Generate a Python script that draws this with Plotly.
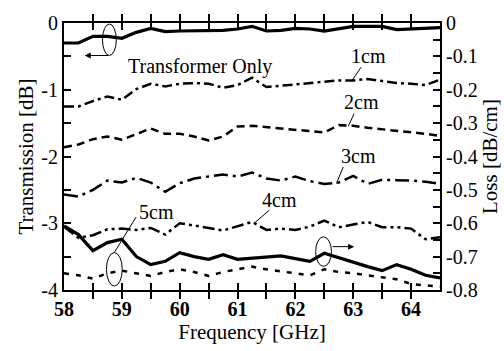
import plotly.graph_objects as go

freq = [58.0, 58.25, 58.5, 58.75, 59.0, 59.25, 59.5, 59.75, 60.0, 60.25, 60.5, 60.75, 61.0,
        61.25, 61.5, 61.75, 62.0, 62.25, 62.5, 62.75, 63.0, 63.25, 63.5, 63.75, 64.0, 64.25, 64.5]

transformer_only = [-0.30, -0.30, -0.20, -0.20, -0.23, -0.14, -0.08, -0.13, -0.12, -0.12, -0.12, -0.11, -0.09,
                    -0.05, -0.12, -0.11, -0.08, -0.09, -0.12, -0.09, -0.05, -0.05, -0.05, -0.10, -0.09, -0.08, -0.07]
t_1cm = [-1.25, -1.25, -1.17, -1.10, -1.15, -0.99, -0.91, -0.95, -0.91, -0.90, -0.91, -0.97, -0.93,
         -0.82, -0.96, -0.94, -0.91, -0.90, -0.88, -0.86, -0.86, -0.84, -0.87, -0.90, -0.91, -0.93, -0.85]
t_2cm = [-1.86, -1.82, -1.74, -1.70, -1.75, -1.66, -1.58, -1.66, -1.66, -1.70, -1.76, -1.70, -1.55,
         -1.54, -1.56, -1.58, -1.59, -1.61, -1.64, -1.53, -1.54, -1.57, -1.59, -1.61, -1.63, -1.66, -1.69]
t_3cm = [-2.57, -2.60, -2.50, -2.36, -2.39, -2.32, -2.39, -2.53, -2.40, -2.33, -2.30, -2.27, -2.30,
         -2.24, -2.33, -2.36, -2.30, -2.37, -2.41, -2.39, -2.29, -2.41, -2.35, -2.35, -2.36, -2.38, -2.41]
t_4cm = [-3.05, -3.22, -3.18, -3.09, -3.08, -3.10, -3.07, -3.17, -3.00, -3.03, -3.07, -3.11, -3.05,
         -2.98, -3.10, -3.08, -3.10, -3.05, -2.96, -3.06, -3.02, -2.98, -3.06, -3.06, -3.08, -3.24, -3.21]
t_5cm = [-3.75, -3.78, -3.83, -3.75, -3.71, -3.75, -3.79, -3.73, -3.69, -3.73, -3.79, -3.73, -3.69,
         -3.65, -3.69, -3.72, -3.75, -3.78, -3.69, -3.73, -3.75, -3.78, -3.80, -3.84, -3.91, -3.93, -3.95]
loss_per_cm = [-0.608, -0.634, -0.682, -0.658, -0.648, -0.700, -0.724, -0.714, -0.688, -0.700, -0.708, -0.694, -0.708,
               -0.704, -0.702, -0.698, -0.706, -0.714, -0.690, -0.704, -0.718, -0.730, -0.742, -0.724, -0.738, -0.756, -0.764]

x_tick_pos = [58, 58.5, 59, 59.5, 60, 60.5, 61, 61.5, 62, 62.5, 63, 63.5, 64]
x_tick_text = ["<b>58</b>", "", "<b>59</b>", "", "<b>60</b>", "", "<b>61</b>", "", "<b>62</b>", "",
               "<b>63</b>", "", "<b>64</b>"]
y_left_pos = [0, -0.5, -1, -1.5, -2, -2.5, -3, -3.5, -4]
y_left_text = ["0", "", "-1", "", "-2", "", "-3", "", "-4"]
y_right_pos = [0, -0.05, -0.1, -0.15, -0.2, -0.25, -0.3, -0.35, -0.4, -0.45, -0.5, -0.55, -0.6, -0.65,
               -0.7, -0.75, -0.8]
y_right_text = ["0", "", "-0.1", "", "-0.2", "", "-0.3", "", "-0.4", "", "-0.5", "", "-0.6", "",
                "-0.7", "", "-0.8"]

FONT = "Liberation Serif"
W, H = 504, 351
ML, MR, MT, MB = 64, 59, 20, 60
X0, X1 = 58, 64.5
Y0, Y1 = -4, 0
pw, ph = W - ML - MR, H - MT - MB


def dx(px):
    return X0 + (px - ML) / pw * (X1 - X0)


def dy(py):
    return Y1 - (py - MT) / ph * (Y1 - Y0)


fig = go.Figure()
style = [
    (transformer_only, "solid", 3.2, "y"),
    (t_1cm, "10px,4px,3px,4px", 2.5, "y"),
    (t_2cm, "8px,5px", 2.5, "y"),
    (t_3cm, "14px,5px,3px,5px", 2.5, "y"),
    (t_4cm, "12px,4px,3px,4px,3px,4px", 2.5, "y"),
    (t_5cm, "5px,7px", 2.5, "y"),
    (loss_per_cm, "solid", 3.2, "y2"),
]
for vals, dash, w, ax in style:
    fig.add_trace(go.Scatter(x=freq, y=vals, mode="lines", yaxis=ax,
                             line=dict(color="black", width=w, dash=dash), showlegend=False))

labels = [("Transformer Only", 202, 64), ("1cm", 373, 53), ("2cm", 365, 100),
          ("3cm", 362, 155), ("4cm", 282, 200), ("5cm", 158, 212)]
for txt, px, py in labels:
    fig.add_annotation(x=dx(px), y=dy(py), xref="x", yref="y", text=txt, showarrow=False,
                       font=dict(family=FONT, size=20, color="black"))

pointers = [((365, 65), (356, 78)), ((358, 112), (352, 125)), ((347, 166), (340, 183)),
            ((272, 210), (257, 223)), ((137, 217), (115, 253))]
shapes = []
for (ax_, ay_), (bx, by) in pointers:
    shapes.append(dict(type="line", xref="x", yref="y", x0=dx(ax_), y0=dy(ay_), x1=dx(bx), y1=dy(by),
                       line=dict(color="black", width=1)))
ellipses = [(110, 37, 7, 16), (115, 270, 8, 17), (327, 252, 8, 15)]
for cx, cy, rx, ry in ellipses:
    shapes.append(dict(type="circle", xref="x", yref="y", x0=dx(cx - rx), x1=dx(cx + rx),
                       y0=dy(cy + ry), y1=dy(cy - ry), line=dict(color="black", width=1)))
fig.update_layout(shapes=shapes)

arrows = [((110, 53), (85, 53)), ((335, 247), (358, 247))]
for (sx, sy), (ex, ey) in arrows:
    fig.add_annotation(x=dx(ex), y=dy(ey), xref="x", yref="y", ax=sx - ex, ay=sy - ey,
                       text="", showarrow=True, arrowhead=2, arrowsize=1.2, arrowwidth=1, arrowcolor="black")

axis_common = dict(showline=True, linecolor="black", linewidth=2, ticks="inside", tickcolor="black",
                   ticklen=7, tickwidth=1.5, showgrid=False, zeroline=False, tickmode="array")

fig.update_layout(
    width=W, height=H, margin=dict(l=ML, r=MR, t=MT, b=MB),
    paper_bgcolor="white", plot_bgcolor="white",
    xaxis=dict(range=[X0, X1], tickvals=x_tick_pos, ticktext=x_tick_text, mirror="allticks",
               tickfont=dict(family=FONT, size=20, color="black"),
               title=dict(text="Frequency [GHz]", font=dict(family=FONT, size=21, color="black"), standoff=4),
               **axis_common),
    yaxis=dict(range=[Y0, Y1], tickvals=y_left_pos, ticktext=y_left_text,
               tickfont=dict(family=FONT, size=20, color="black"),
               title=dict(text="Transmission [dB]", font=dict(family=FONT, size=21, color="black"), standoff=2),
               **axis_common),
    yaxis2=dict(range=[-0.8, 0], overlaying="y", side="right", tickvals=y_right_pos, ticktext=y_right_text,
                tickfont=dict(family=FONT, size=20, color="black"),
                title=dict(text="Loss [dB/cm]", font=dict(family=FONT, size=21, color="black"), standoff=0),
                **axis_common),
)

fig.write_html("out.html")
